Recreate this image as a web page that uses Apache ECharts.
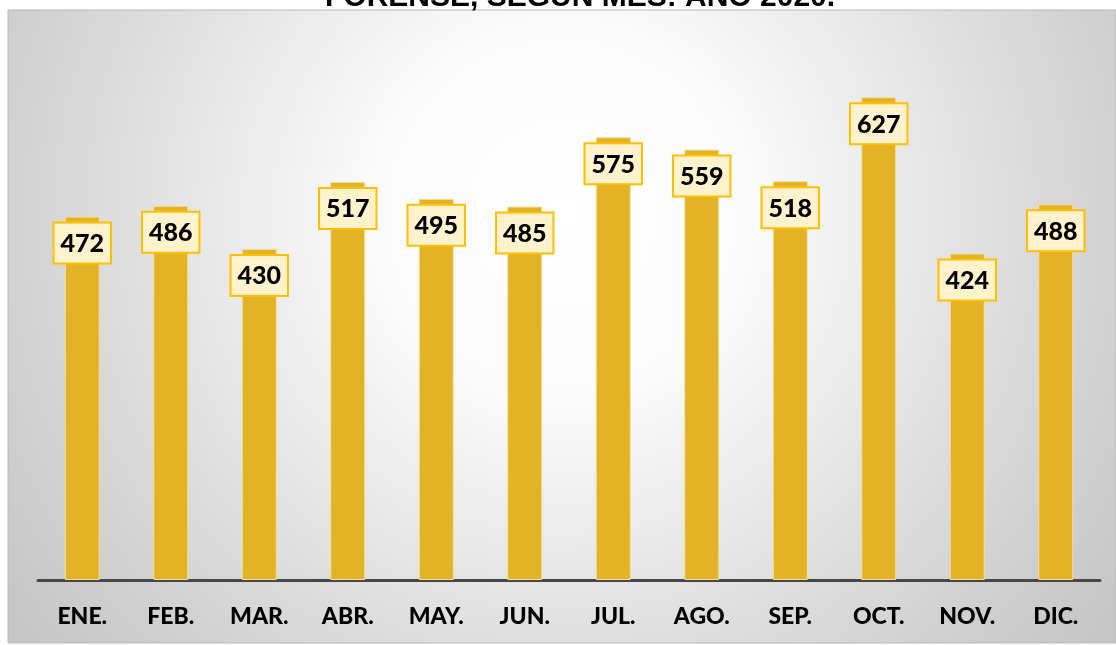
<!DOCTYPE html>
<html>
<head>
    <meta charset="utf-8">
    <title>Forense 2020</title>
    <script src="https://cdn.jsdelivr.net/npm/echarts@6/dist/echarts.min.js"></script>
    <style>
        html, body { margin: 0; padding: 0; background: #fff; }
        #chart { width: 1116px; height: 645px; }
    </style>
</head>
<body>
    <div id="chart"></div>
    <script>
        // 数据
        var meses = ['ENE.', 'FEB.', 'MAR.', 'ABR.', 'MAY.', 'JUN.', 'JUL.', 'AGO.', 'SEP.', 'OCT.', 'NOV.', 'DIC.'];
        var valores = [472, 486, 430, 517, 495, 485, 575, 559, 518, 627, 424, 488];
        var titulo = 'FORENSE, SEGÚN MES: AÑO 2020.';

        var chart = echarts.init(document.getElementById('chart'));
        var option = {
            backgroundColor: '#ffffff',
            title: {
                text: titulo,
                left: 320,
                top: -22,
                textStyle: {
                    fontFamily: 'Liberation Sans',
                    fontWeight: 'bold',
                    fontSize: 30,
                    color: '#000'
                }
            },
            graphic: [{
                type: 'rect',
                z: -10,
                silent: true,
                shape: { x: 8, y: 10, width: 1108, height: 633 },
                style: {
                    fill: new echarts.graphic.RadialGradient(0.5, 0.32, 1.15, [
                        { offset: 0, color: '#ffffff' },
                        { offset: 0.25, color: '#fbfbfb' },
                        { offset: 0.75, color: '#d2d2d2' },
                        { offset: 1, color: '#c2c2c2' }
                    ]),
                    stroke: '#b8b8b8',
                    lineWidth: 1
                }
            }],
            grid: {
                left: 38,
                right: 16,
                top: 41,
                bottom: 65
            },
            xAxis: {
                type: 'category',
                data: meses,
                axisLine: { lineStyle: { color: '#474747', width: 3 } },
                axisTick: { show: false },
                axisLabel: {
                    margin: 25,
                    color: '#000',
                    fontFamily: 'Lato',
                    fontWeight: 900,
                    fontSize: 23
                }
            },
            yAxis: {
                type: 'value',
                min: 0,
                max: 700,
                show: false,
                splitLine: { show: false }
            },
            series: [{
                type: 'bar',
                data: valores,
                barWidth: 35,
                itemStyle: {
                    color: '#E2B327',
                    borderColor: '#F3DFA2',
                    borderWidth: 1
                },
                label: {
                    show: true,
                    position: 'insideTop',
                    distance: 7,
                    color: '#000',
                    fontFamily: 'Lato',
                    fontWeight: 900,
                    fontSize: 25,
                    backgroundColor: '#FFF2CC',
                    borderColor: '#FFC000',
                    borderWidth: 2,
                    padding: [8, 6, 6, 6]
                }
            }]
        };
        chart.setOption(option);
    </script>
</body>
</html>
